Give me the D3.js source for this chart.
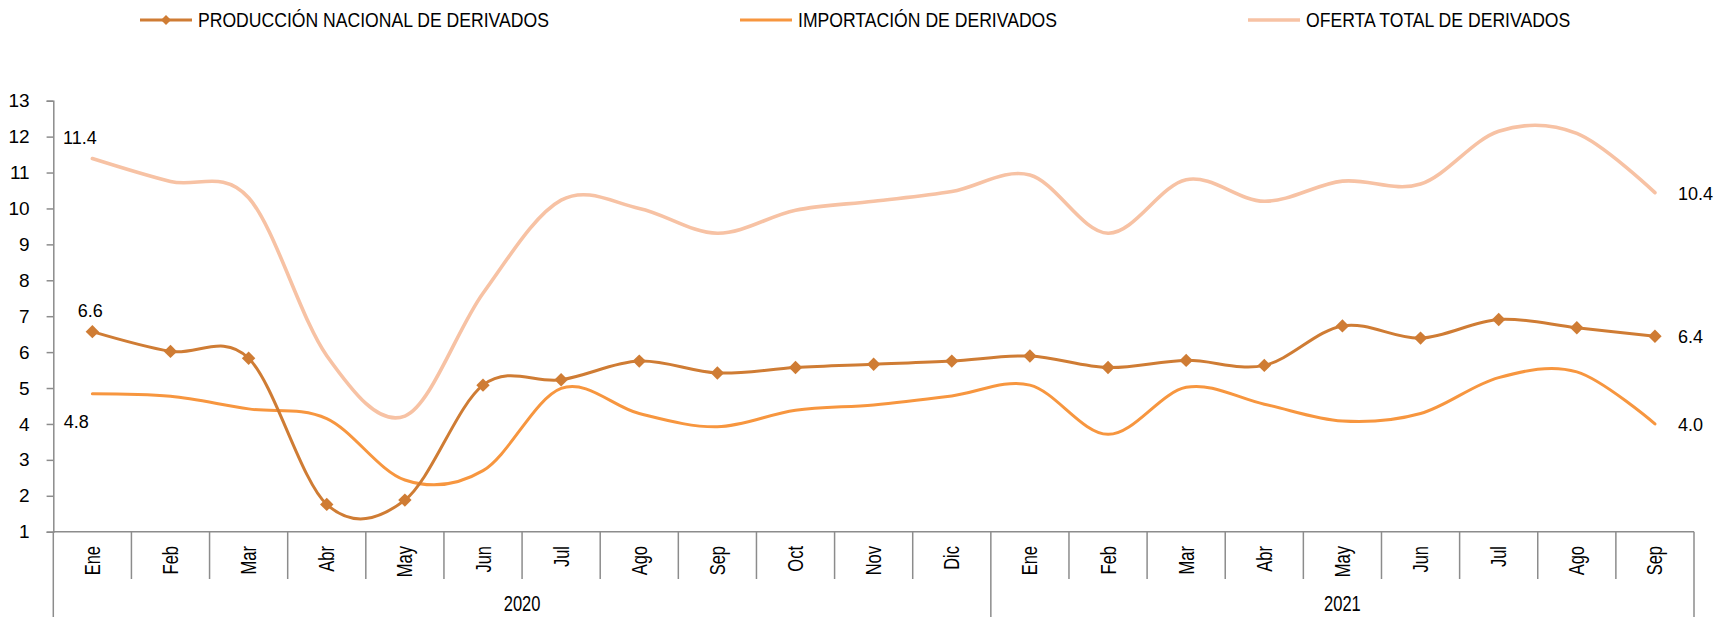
<!DOCTYPE html>
<html>
<head>
<meta charset="utf-8">
<script src="https://cdn.jsdelivr.net/npm/d3@7"></script>
<style>
  html, body { margin: 0; padding: 0; background: #fff; }
  svg { display: block; font-family: "Liberation Sans", Arial, sans-serif; }
</style>
</head>
<body>
<svg id="chart" width="1715" height="617"></svg>
<script>
// ---- data ----
const months = ["Ene","Feb","Mar","Abr","May","Jun","Jul","Ago","Sep","Oct","Nov","Dic",
                "Ene","Feb","Mar","Abr","May","Jun","Jul","Ago","Sep"];
const yearLabels = ["2020", "2021"];
const yearSpans = [12, 9];
const produccion = [6.57, 6.02, 5.83, 1.76, 1.88, 5.08, 5.23, 5.75, 5.42, 5.57, 5.66, 5.75,
                    5.89, 5.57, 5.77, 5.63, 6.73, 6.39, 6.91, 6.68, 6.44];
const importacion = [4.84, 4.77, 4.42, 4.15, 2.44, 2.70, 4.99, 4.29, 3.92, 4.38, 4.53, 4.78,
                     5.08, 3.71, 5.02, 4.55, 4.08, 4.29, 5.29, 5.45, 4.00];
const oferta = [11.39, 10.75, 10.30, 5.90, 4.22, 7.64, 10.23, 10.00, 9.31, 9.95, 10.20, 10.47,
                10.93, 9.31, 10.80, 10.20, 10.76, 10.68, 12.15, 12.09, 10.44];
const yTicks = [1,2,3,4,5,6,7,8,9,10,11,12,13];
const seriesNames = ["PRODUCCIÓN NACIONAL DE DERIVADOS", "IMPORTACIÓN DE DERIVADOS", "OFERTA TOTAL DE DERIVADOS"];

// ---- layout / style ----
const colors = ["#CF7C34", "#F7963F", "#F7C2A4"];
const widths = [3, 3, 3.6];
const axisColor = "#8C8C8C";
const svg = d3.select("#chart");

const x = d3.scaleBand().domain(d3.range(months.length)).range([53.3, 1694]).padding(0);
const y = d3.scaleLinear().domain([1, 13]).range([531.7, 100.7]);
const cx = i => x(i) + x.bandwidth() / 2;

// y axis
const yAxis = svg.append("g").attr("transform", "translate(53.3,0)")
  .call(d3.axisLeft(y).tickValues(yTicks).tickSize(6.7).tickPadding(17).tickFormat(d3.format("d")));
yAxis.select(".domain").attr("stroke", axisColor).attr("stroke-width", 1.5);
yAxis.selectAll(".tick line").attr("stroke", axisColor).attr("stroke-width", 1.5);
yAxis.selectAll(".tick text").attr("font-size", 19).attr("fill", "#000")
  .attr("font-family", "'Liberation Sans', Arial, sans-serif");

// x axis line
const xg = svg.append("g");
const [x0, x1] = x.range();
xg.append("line").attr("x1", x0).attr("x2", x1).attr("y1", y(1)).attr("y2", y(1))
  .attr("stroke", axisColor).attr("stroke-width", 1.5);
// month separators
const yearStarts = yearSpans.map((s, i) => d3.sum(yearSpans.slice(0, i)));
const boundaries = d3.range(months.length + 1);
boundaries.forEach(b => {
  const bx = b < months.length ? x(b) : x1;
  const isYear = b === months.length || yearStarts.includes(b);
  xg.append("line").attr("x1", bx).attr("x2", bx).attr("y1", y(1))
    .attr("y2", isYear ? 617 : 579)
    .attr("stroke", axisColor).attr("stroke-width", 1.5);
});
// month labels
months.forEach((m, i) => {
  xg.append("text")
    .attr("transform", `translate(${cx(i) + 7.5},546) rotate(-90) scale(0.75,1)`)
    .attr("text-anchor", "end").attr("font-size", 22).attr("fill", "#000").text(m);
});
// year labels
yearLabels.forEach((yl, i) => {
  const s = yearStarts[i], e = s + yearSpans[i];
  const mid = (x(s) + (e < months.length ? x(e) : x1)) / 2;
  xg.append("text")
    .attr("transform", `translate(${mid},611) scale(0.75,1)`)
    .attr("text-anchor", "middle").attr("font-size", 22).attr("fill", "#000").text(yl);
});

// lines
const line = d3.line().x((d, i) => cx(i)).y(d => y(d)).curve(d3.curveCatmullRom.alpha(0));
const series = [produccion, importacion, oferta];
[2, 1, 0].forEach(k => {
  svg.append("path").datum(series[k]).attr("d", line)
    .attr("fill", "none").attr("stroke", colors[k]).attr("stroke-width", widths[k])
    .attr("stroke-linejoin", "round").attr("stroke-linecap", "round");
});
// diamond markers
const diamond = d3.symbol().type(d3.symbolSquare).size(90);
svg.append("g").selectAll("path").data(produccion).join("path")
  .attr("d", diamond)
  .attr("transform", (d, i) => `translate(${cx(i)},${y(d)}) rotate(45)`)
  .attr("fill", colors[0]);

// data labels
const fmt = d3.format(".1f");
const last = months.length - 1;
const lbl = (tx, ty, anchor, txt) => svg.append("text").attr("x", tx).attr("y", ty)
  .attr("text-anchor", anchor).attr("font-size", 18).attr("fill", "#000").text(txt);
lbl(cx(0) - 12.5, y(oferta[0]) - 14.5, "middle", fmt(oferta[0]));
lbl(cx(0) - 2, y(produccion[0]) - 15, "middle", fmt(produccion[0]));
lbl(cx(0) - 16, y(importacion[0]) + 34.5, "middle", fmt(importacion[0]));
lbl(cx(last) + 23, y(oferta[last]) + 7, "start", fmt(oferta[last]));
lbl(cx(last) + 23, y(produccion[last]) + 7, "start", fmt(produccion[last]));
lbl(cx(last) + 23, y(importacion[last]) + 7, "start", fmt(importacion[last]));

// legend
const legendX = [140, 740, 1248];
const lg = svg.append("g");
seriesNames.forEach((n, k) => {
  const lx = legendX[k];
  lg.append("line").attr("x1", lx).attr("x2", lx + 52).attr("y1", 20).attr("y2", 20)
    .attr("stroke", colors[k]).attr("stroke-width", k === 2 ? 3.6 : 3);
  if (k === 0) {
    lg.append("path").attr("d", d3.symbol().type(d3.symbolSquare).size(50)())
      .attr("transform", `translate(${lx + 26},20) rotate(45)`).attr("fill", colors[0]);
  }
  lg.append("text").attr("transform", `translate(${lx + 58},27) scale(0.88,1)`)
    .attr("font-size", 20).attr("fill", "#000").text(n);
});
</script>
</body>
</html>
